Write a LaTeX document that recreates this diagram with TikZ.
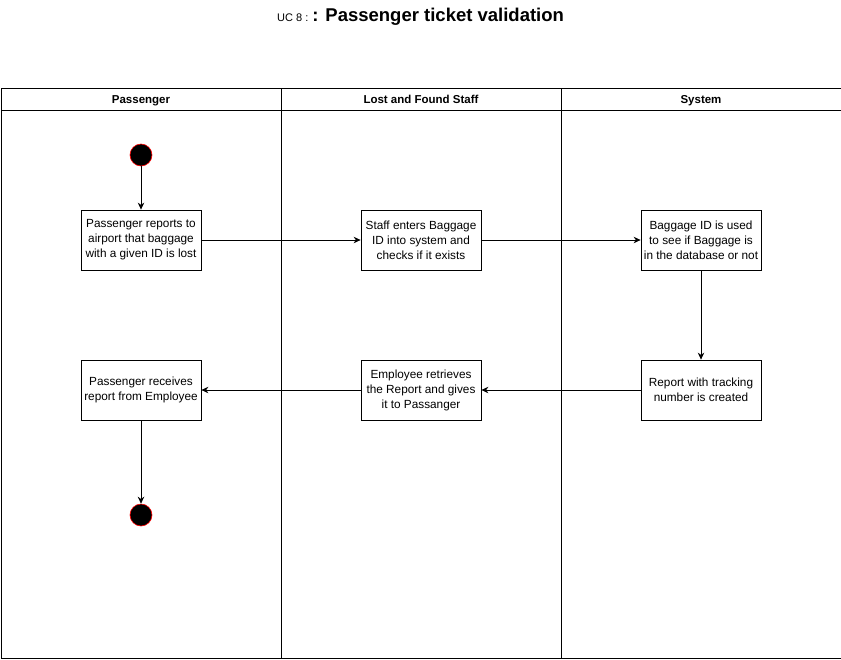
\documentclass[tikz,border=0pt]{standalone}
\usepackage{fontspec}
\setmainfont{Liberation Sans}
\usetikzlibrary{arrows.meta}
\begin{document}
\begin{tikzpicture}[x=1pt,y=-1pt,
  lane/.style={draw=black,line width=0.8pt},
  hdr/.style={font=\bfseries\fontsize{11.5pt}{13pt}\selectfont,anchor=base},
  act/.style={draw=black,fill=white,line width=0.8pt,minimum width=120pt,minimum height=60pt,align=center,inner sep=1pt,font=\fontsize{11.8pt}{15pt}\selectfont},
  dot/.style={circle,fill=black,draw=red,line width=0.6pt,minimum size=22pt,inner sep=0pt},
  flow/.style={draw=black,line width=0.8pt,-{Stealth[length=7pt,width=6.5pt]}}
]
\useasboundingbox (0,0) rectangle (841,659);
% title
\node[anchor=base west,inner sep=0pt] (title) at (277,21) {\fontsize{11pt}{13pt}\selectfont UC 8 : \fontsize{18.5pt}{20pt}\selectfont\bfseries : Passenger ticket validation};
% lanes
\draw[lane] (1,88) rectangle (841,658);
\draw[lane] (1,110) -- (841,110);
\draw[lane] (281,88) -- (281,658);
\draw[lane] (561,88) -- (561,658);
\node[hdr] (h1) at (141,103.5) {Passenger};
\node[hdr] (h2) at (421,103.5) {Lost and Found Staff};
\node[hdr] (h3) at (701,103.5) {System};
% nodes
\node[dot] (start) at (141,155) {};
\node[act] (a1) at (141,240) {Passenger reports to\\airport that baggage\\with a given ID is lost};
\node[act] (a2) at (421,240) {Staff enters Baggage\\ID into system and\\checks if it exists};
\node[act] (a3) at (701,240) {Baggage ID is used\\to see if Baggage is\\in the database or not};
\node[act] (a4) at (701,390) {Report with tracking\\number is created};
\node[act] (a5) at (421,390) {Employee retrieves\\the Report and gives\\it to Passanger};
\node[act] (a6) at (141,390) {Passenger receives\\report from Employee};
\node[dot] (end) at (141,515) {};
% flows
\draw[flow] (start) -- (a1);
\draw[flow] (a1) -- (a2);
\draw[flow] (a2) -- (a3);
\draw[flow] (a3) -- (a4);
\draw[flow] (a4) -- (a5);
\draw[flow] (a5) -- (a6);
\draw[flow] (a6) -- (end);
\end{tikzpicture}
\end{document}
